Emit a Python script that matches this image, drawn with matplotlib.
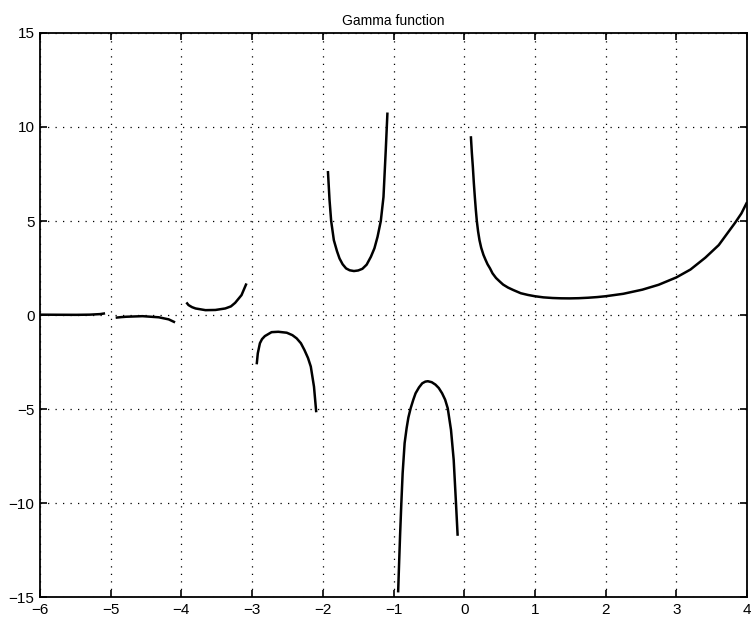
import matplotlib
matplotlib.use("Agg")
import matplotlib.pyplot as plt

# values, one list pair per branch
x_b1 = [-6.00, -5.75, -5.49, -5.30, -5.15, -5.08]
y_b1 = [0.02, 0.015, 0.011, 0.02, 0.05, 0.09]

x_b2 = [-4.93, -4.85, -4.78, -4.55, -4.32, -4.18, -4.09]
y_b2 = [-0.14, -0.11, -0.09, -0.06, -0.12, -0.23, -0.39]

x_b3 = [-3.93, -3.90, -3.85, -3.80, -3.66, -3.52, -3.38, -3.30, -3.24, -3.15, -3.08]
y_b3 = [0.67, 0.53, 0.42, 0.35, 0.26, 0.27, 0.35, 0.46, 0.65, 1.06, 1.68]

x_b4 = [-2.935, -2.92, -2.89, -2.86, -2.82, -2.725, -2.63, -2.51, -2.43, -2.37, -2.31, -2.26,
        -2.21, -2.17, -2.125, -2.093]
y_b4 = [-2.62, -2.04, -1.50, -1.28, -1.12, -0.91, -0.89, -0.94, -1.07, -1.24, -1.50, -1.86,
        -2.28, -2.74, -3.81, -5.17]

x_b5 = [-1.928, -1.905, -1.882, -1.844, -1.80, -1.764, -1.72, -1.671, -1.62, -1.56, -1.50,
        -1.44, -1.38, -1.32, -1.27, -1.226, -1.18, -1.142, -1.11, -1.086]
y_b5 = [7.66, 6.11, 5.00, 3.98, 3.40, 3.01, 2.70, 2.48, 2.38, 2.34, 2.37,
        2.46, 2.68, 3.10, 3.55, 4.16, 5.00, 6.28, 8.76, 10.77]

x_b6 = [-0.935, -0.921, -0.907, -0.889, -0.871, -0.843, -0.815, -0.79, -0.758, -0.72, -0.688,
        -0.64, -0.594, -0.55, -0.514, -0.46, -0.407, -0.36, -0.313, -0.27, -0.233, -0.187,
        -0.149, -0.117, -0.093]
y_b6 = [-14.75, -13.19, -11.68, -9.97, -8.41, -6.81, -6.02, -5.45, -4.96, -4.50, -4.16,
        -3.85, -3.63, -3.54, -3.52, -3.57, -3.70, -3.88, -4.16, -4.50, -4.96, -6.11,
        -7.70, -9.97, -11.74]

x_b7 = [0.094, 0.108, 0.122, 0.136, 0.150, 0.164, 0.178, 0.196, 0.216, 0.24, 0.272, 0.30,
        0.33, 0.365, 0.40, 0.45, 0.506, 0.55, 0.62, 0.694, 0.80, 0.90, 1.00, 1.12, 1.25,
        1.37, 1.49, 1.62, 1.75, 1.88, 2.00, 2.25, 2.52, 2.75, 3.00, 3.20, 3.41, 3.60, 3.83,
        3.92, 4.00]
y_b7 = [9.51, 8.62, 7.88, 7.02, 6.28, 5.60, 5.01, 4.45, 3.98, 3.58, 3.20, 2.95,
        2.70, 2.48, 2.22, 1.97, 1.77, 1.62, 1.46, 1.33, 1.16, 1.07, 1.00, 0.94, 0.906,
        0.89, 0.886, 0.896, 0.92, 0.955, 1.00, 1.13, 1.35, 1.61, 2.00, 2.42, 3.05, 3.72, 4.90,
        5.40, 6.00]

x_ticks = [-6, -5, -4, -3, -2, -1, 0, 1, 2, 3, 4]
y_ticks = [-15, -10, -5, 0, 5, 10, 15]

plt.rcParams["font.family"] = ["Liberation Sans", "DejaVu Sans"]

fig = plt.figure(figsize=(7.51, 6.22), dpi=100)
ax = fig.add_axes([0.0533, 0.040, 0.9414, 0.907])

branches = [(x_b1, y_b1), (x_b2, y_b2), (x_b3, y_b3), (x_b4, y_b4),
            (x_b5, y_b5), (x_b6, y_b6), (x_b7, y_b7)]
for xs, ys in branches:
    ax.plot(xs, ys, color="black", linewidth=1.8, solid_capstyle="butt")

ax.set_xlim(-6, 4)
ax.set_ylim(-15, 15)
ax.set_xticks(x_ticks)
ax.set_yticks(y_ticks)
ax.tick_params(direction="in", length=5, width=1.2, labelsize=11, top=True, right=True, pad=4)
ax.grid(True, color="black", linestyle=(0, (1, 5)), linewidth=0.9)
for sp in ax.spines.values():
    sp.set_linewidth(1.3)
ax.set_title("Gamma function", fontsize=10, pad=6)

fig.savefig("out.png", dpi=100)
